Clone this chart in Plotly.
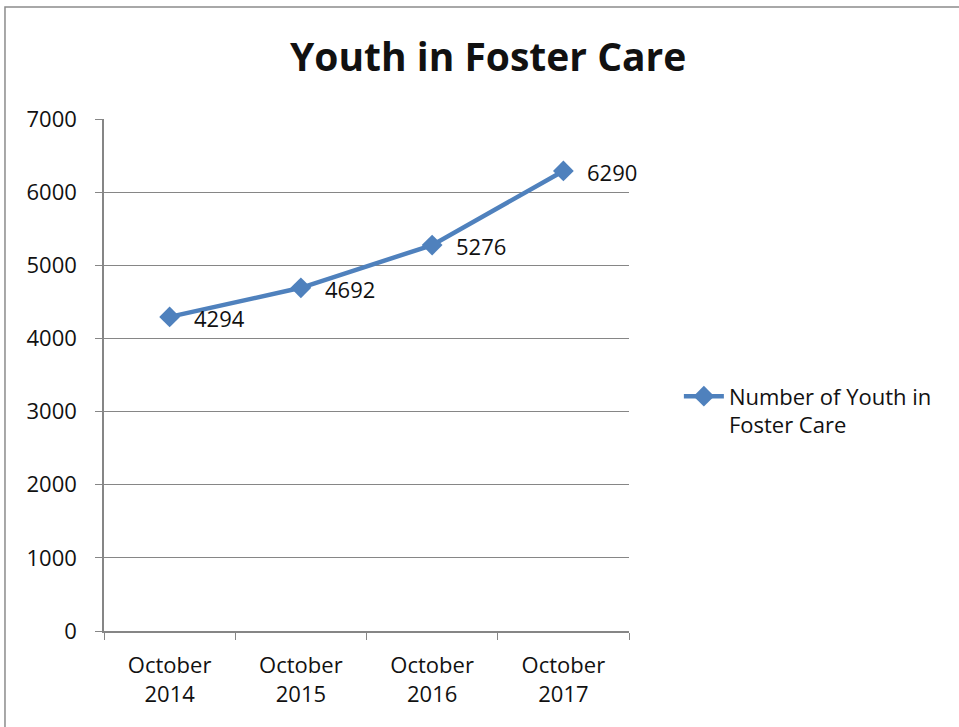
import plotly.graph_objects as go

categories = ["October<br>2014", "October<br>2015", "October<br>2016", "October<br>2017"]
values = [4294, 4692, 5276, 6290]
series_name = "Number of Youth in<br>Foster Care"
title = "Youth in Foster Care"

FONT = "Open Sans"
BLUE = "#4F81BD"
GRID = "#868686"
TXT = "#111111"

fig = go.Figure()
fig.add_trace(go.Scatter(
    x=categories, y=values, name=series_name,
    mode="lines+markers",
    line=dict(color=BLUE, width=4.5),
    marker=dict(symbol="diamond", size=16, color=BLUE),
    cliponaxis=False,
))

annotations = [
    dict(x=c, y=v, text=str(v), xref="x", yref="y", showarrow=False,
         xanchor="left", yanchor="middle", xshift=22, yshift=-1,
         font=dict(family=FONT, size=22, color=TXT))
    for c, v in zip(categories, values)
]

fig.update_layout(
    width=959, height=727,
    margin=dict(l=104, r=330, t=119, b=96),
    paper_bgcolor="white", plot_bgcolor="white",
    title=dict(text="<b>" + title + "</b>", x=0.509, xanchor="center", y=0.921, yanchor="middle",
               font=dict(family=FONT, size=39, color=TXT)),
    font=dict(family=FONT, size=22, color=TXT),
    showlegend=True,
    legend=dict(x=1.095, xanchor="left", y=0.43, yanchor="middle", valign="top",
                itemwidth=40,
                font=dict(family=FONT, size=22, color=TXT),
                bgcolor="rgba(0,0,0,0)"),
    xaxis=dict(type="category", range=[-0.5, 3.5], showgrid=False,
               showline=True, linecolor=GRID, linewidth=1.5,
               ticks="outside", ticklen=7, tickcolor=GRID, tickson="boundaries",
               ticklabelstandoff=14,
               tickfont=dict(family=FONT, size=22)),
    yaxis=dict(range=[0, 7000], dtick=1000, showgrid=True, gridcolor=GRID, gridwidth=1.2,
               showline=True, linecolor=GRID, linewidth=1.5, zeroline=False,
               ticks="outside", ticklen=7, tickcolor=GRID,
               ticklabelstandoff=14,
               tickfont=dict(family=FONT, size=22)),
    annotations=annotations,
    shapes=[dict(type="rect", xref="paper", yref="paper", x0=-0.1886, x1=1.72, y0=-0.24, y1=1.2188,
                 line=dict(color="#8C8C8C", width=1.5))],
)

fig.write_html("out.html", config={"displayModeBar": False},
               post_script="document.body.style.margin='0';")
